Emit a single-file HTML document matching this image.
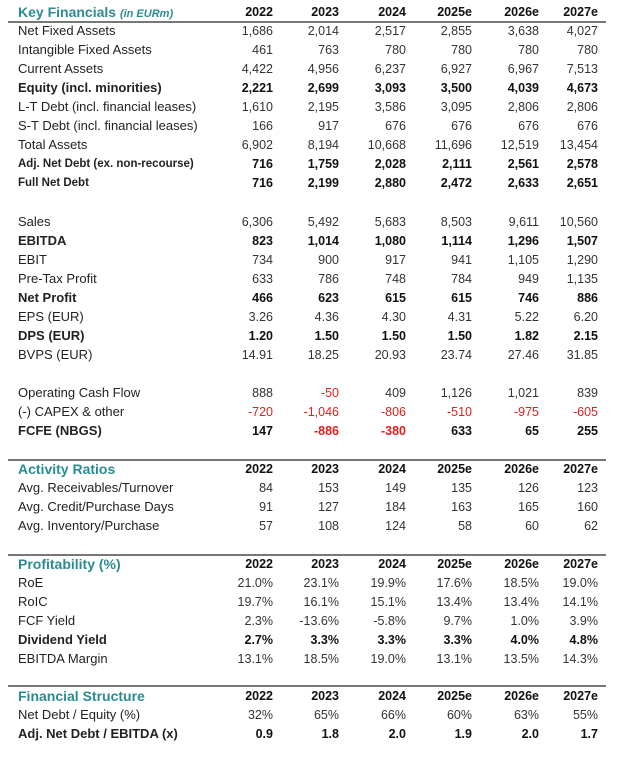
<!DOCTYPE html>
<html><head><meta charset="utf-8"><style>
body{margin:0;width:624px;height:758px;background:#fff;position:relative;font-family:"Liberation Sans",Arial,sans-serif;color:#222;overflow:hidden}
.r{position:absolute;left:0;width:624px;height:16px;line-height:16px;font-size:13px}
.r span{position:absolute;left:18px;white-space:nowrap}
.r i{position:absolute;font-style:normal;font-size:12.5px;color:#333}
.r i:nth-of-type(1){right:351px}.r i:nth-of-type(2){right:285px}.r i:nth-of-type(3){right:218px}
.r i:nth-of-type(4){right:152px}.r i:nth-of-type(5){right:85px}.r i:nth-of-type(6){right:26px}
.b{font-weight:bold}.b i{color:#111}
.h span{color:#2a8c92;font-weight:bold;font-size:14px}
.h i{font-weight:bold;color:#111!important}
.s{font-size:11.5px}
.red{color:#e02020!important}
.line{position:absolute;left:8px;width:598px;height:2px;background:#777}
</style></head><body>
<div class="r h" style="top:4px"><span>Key Financials <em style="font-size:11px;font-weight:bold">(in EURm)</em></span><i>2022</i><i>2023</i><i>2024</i><i>2025e</i><i>2026e</i><i>2027e</i></div>
<div class="line" style="top:21px"></div>
<div class="r" style="top:23px"><span>Net Fixed Assets</span><i>1,686</i><i>2,014</i><i>2,517</i><i>2,855</i><i>3,638</i><i>4,027</i></div>
<div class="r" style="top:42px"><span>Intangible Fixed Assets</span><i>461</i><i>763</i><i>780</i><i>780</i><i>780</i><i>780</i></div>
<div class="r" style="top:61px"><span>Current Assets</span><i>4,422</i><i>4,956</i><i>6,237</i><i>6,927</i><i>6,967</i><i>7,513</i></div>
<div class="r b" style="top:80px"><span>Equity (incl. minorities)</span><i>2,221</i><i>2,699</i><i>3,093</i><i>3,500</i><i>4,039</i><i>4,673</i></div>
<div class="r" style="top:99px"><span>L-T Debt (incl. financial leases)</span><i>1,610</i><i>2,195</i><i>3,586</i><i>3,095</i><i>2,806</i><i>2,806</i></div>
<div class="r" style="top:118px"><span>S-T Debt (incl. financial leases)</span><i>166</i><i>917</i><i>676</i><i>676</i><i>676</i><i>676</i></div>
<div class="r" style="top:137px"><span>Total Assets</span><i>6,902</i><i>8,194</i><i>10,668</i><i>11,696</i><i>12,519</i><i>13,454</i></div>
<div class="r b" style="top:156px"><span class="s">Adj. Net Debt (ex. non-recourse)</span><i>716</i><i>1,759</i><i>2,028</i><i>2,111</i><i>2,561</i><i>2,578</i></div>
<div class="r b" style="top:175px"><span class="s">Full Net Debt</span><i>716</i><i>2,199</i><i>2,880</i><i>2,472</i><i>2,633</i><i>2,651</i></div>

<div class="r" style="top:214px"><span>Sales</span><i>6,306</i><i>5,492</i><i>5,683</i><i>8,503</i><i>9,611</i><i>10,560</i></div>
<div class="r b" style="top:233px"><span>EBITDA</span><i>823</i><i>1,014</i><i>1,080</i><i>1,114</i><i>1,296</i><i>1,507</i></div>
<div class="r" style="top:252px"><span>EBIT</span><i>734</i><i>900</i><i>917</i><i>941</i><i>1,105</i><i>1,290</i></div>
<div class="r" style="top:271px"><span>Pre-Tax Profit</span><i>633</i><i>786</i><i>748</i><i>784</i><i>949</i><i>1,135</i></div>
<div class="r b" style="top:290px"><span>Net Profit</span><i>466</i><i>623</i><i>615</i><i>615</i><i>746</i><i>886</i></div>
<div class="r" style="top:309px"><span>EPS (EUR)</span><i>3.26</i><i>4.36</i><i>4.30</i><i>4.31</i><i>5.22</i><i>6.20</i></div>
<div class="r b" style="top:328px"><span>DPS (EUR)</span><i>1.20</i><i>1.50</i><i>1.50</i><i>1.50</i><i>1.82</i><i>2.15</i></div>
<div class="r" style="top:347px"><span>BVPS (EUR)</span><i>14.91</i><i>18.25</i><i>20.93</i><i>23.74</i><i>27.46</i><i>31.85</i></div>

<div class="r" style="top:385px"><span>Operating Cash Flow</span><i>888</i><i class="red">-50</i><i>409</i><i>1,126</i><i>1,021</i><i>839</i></div>
<div class="r" style="top:404px"><span>(-) CAPEX &amp; other</span><i class="red">-720</i><i class="red">-1,046</i><i class="red">-806</i><i class="red">-510</i><i class="red">-975</i><i class="red">-605</i></div>
<div class="r b" style="top:423px"><span>FCFE (NBGS)</span><i>147</i><i class="red">-886</i><i class="red">-380</i><i>633</i><i>65</i><i>255</i></div>

<div class="line" style="top:459px"></div>
<div class="r h" style="top:461px"><span>Activity Ratios</span><i>2022</i><i>2023</i><i>2024</i><i>2025e</i><i>2026e</i><i>2027e</i></div>
<div class="r" style="top:480px"><span>Avg. Receivables/Turnover</span><i>84</i><i>153</i><i>149</i><i>135</i><i>126</i><i>123</i></div>
<div class="r" style="top:499px"><span>Avg. Credit/Purchase Days</span><i>91</i><i>127</i><i>184</i><i>163</i><i>165</i><i>160</i></div>
<div class="r" style="top:518px"><span>Avg. Inventory/Purchase</span><i>57</i><i>108</i><i>124</i><i>58</i><i>60</i><i>62</i></div>

<div class="line" style="top:554px"></div>
<div class="r h" style="top:556px"><span>Profitability (%)</span><i>2022</i><i>2023</i><i>2024</i><i>2025e</i><i>2026e</i><i>2027e</i></div>
<div class="r" style="top:575px"><span>RoE</span><i>21.0%</i><i>23.1%</i><i>19.9%</i><i>17.6%</i><i>18.5%</i><i>19.0%</i></div>
<div class="r" style="top:594px"><span>RoIC</span><i>19.7%</i><i>16.1%</i><i>15.1%</i><i>13.4%</i><i>13.4%</i><i>14.1%</i></div>
<div class="r" style="top:613px"><span>FCF Yield</span><i>2.3%</i><i>-13.6%</i><i>-5.8%</i><i>9.7%</i><i>1.0%</i><i>3.9%</i></div>
<div class="r b" style="top:632px"><span>Dividend Yield</span><i>2.7%</i><i>3.3%</i><i>3.3%</i><i>3.3%</i><i>4.0%</i><i>4.8%</i></div>
<div class="r" style="top:651px"><span>EBITDA Margin</span><i>13.1%</i><i>18.5%</i><i>19.0%</i><i>13.1%</i><i>13.5%</i><i>14.3%</i></div>

<div class="line" style="top:685px"></div>
<div class="r h" style="top:688px"><span>Financial Structure</span><i>2022</i><i>2023</i><i>2024</i><i>2025e</i><i>2026e</i><i>2027e</i></div>
<div class="r" style="top:707px"><span>Net Debt / Equity (%)</span><i>32%</i><i>65%</i><i>66%</i><i>60%</i><i>63%</i><i>55%</i></div>
<div class="r b" style="top:726px"><span>Adj. Net Debt / EBITDA (x)</span><i>0.9</i><i>1.8</i><i>2.0</i><i>1.9</i><i>2.0</i><i>1.7</i></div>
</body></html>
